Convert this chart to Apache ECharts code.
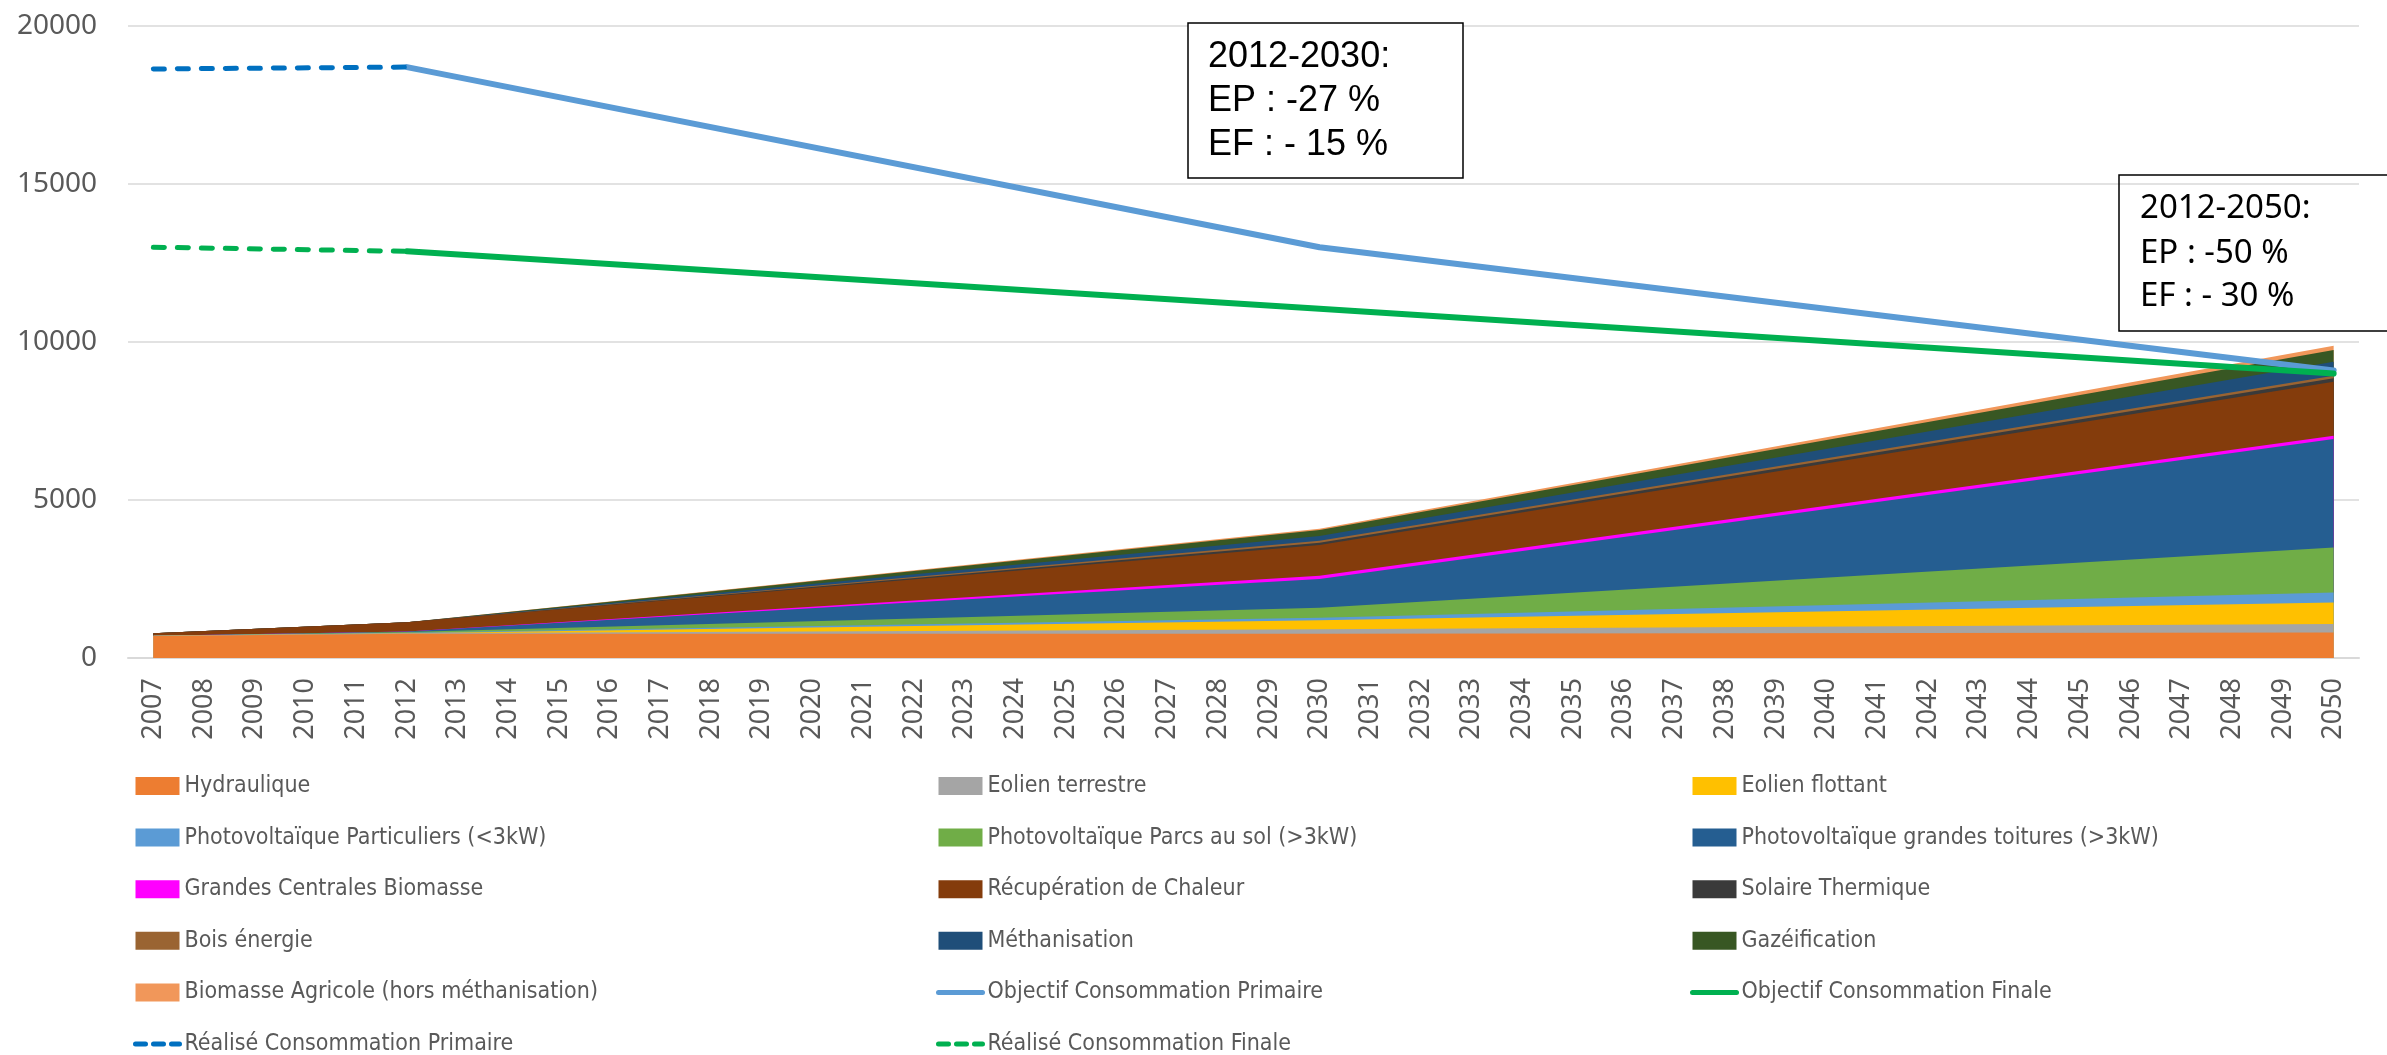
<!DOCTYPE html>
<html>
<head>
<meta charset="utf-8">
<script src="https://cdn.jsdelivr.net/npm/echarts@6/dist/echarts.min.js"></script>
<style>
html,body{margin:0;padding:0;background:#fff;}
#chart{width:2387px;height:1055px;}
</style>
</head>
<body>
<div id="chart"></div>
<script>
const yearLabels = ['2007','2008','2009','2010','2011','2012','2013','2014','2015','2016','2017','2018','2019','2020','2021','2022','2023','2024','2025','2026','2027','2028','2029','2030','2031','2032','2033','2034','2035','2036','2037','2038','2039','2040','2041','2042','2043','2044','2045','2046','2047','2048','2049','2050'];
const yTicks = [0, 5000, 10000, 15000, 20000];

// values read at the years where the stacked areas change slope
const keyYears = [2007, 2012, 2030, 2050];
const hydraulique      = [700, 765, 770, 810];
const eolienTerrestre  = [5, 20, 140, 265];
const eolienFlottant   = [0, 0, 285, 685];
const pvParticuliers   = [0, 15, 75, 315];
const pvSol            = [0, 25, 320, 1425];
const pvToitures       = [0, 10, 910, 3430];
const centralesBiomasse= [0, 0, 100, 100];
const recupChaleur     = [80, 295, 975, 1710];
const solaireThermique = [0, 0, 75, 115];
const boisEnergie      = [0, 0, 60, 75];
const methanisation    = [0, 0, 150, 445];
const gazeification    = [0, 0, 190, 370];
const biomasseAgricole = [0, 0, 40, 135];

// consumption lines
const objectifYears = [2012, 2030, 2050];
const objectifPrimaire = [18700, 13000, 9100];
const objectifFinale   = [12870, 11050, 9000];
const realiseYears = [2007, 2012];
const realisePrimaire = [18640, 18700];
const realiseFinale   = [13000, 12870];

const areaDefs = [
  ['Hydraulique', hydraulique, '#ED7D31'],
  ['Eolien terrestre', eolienTerrestre, '#A5A5A5'],
  ['Eolien flottant', eolienFlottant, '#FFC000'],
  ['Photovoltaïque Particuliers (<3kW)', pvParticuliers, '#5B9BD5'],
  ['Photovoltaïque Parcs au sol (>3kW)', pvSol, '#70AD47'],
  ['Photovoltaïque grandes toitures (>3kW)', pvToitures, '#255E91'],
  ['Grandes Centrales Biomasse', centralesBiomasse, '#FF00FF'],
  ['Récupération de Chaleur', recupChaleur, '#843C0C'],
  ['Solaire Thermique', solaireThermique, '#3A3A3A'],
  ['Bois énergie', boisEnergie, '#9A6432'],
  ['Méthanisation', methanisation, '#1F4E79'],
  ['Gazéification', gazeification, '#385723'],
  ['Biomasse Agricole (hors méthanisation)', biomasseAgricole, '#F1975A']
];

// stacked totals (cumulative sums), each drawn down to zero, top layer first
const running = keyYears.map(() => 0);
const areaSeries = areaDefs.map(([name, vals, color], i) => {
  vals.forEach((v, k) => { running[k] += v; });
  return {
    name, type: 'line', data: keyYears.map((y, k) => [y, running[k]]),
    symbol: 'none', showSymbol: false, color: color, itemStyle: {color: color},
    lineStyle: {width: 0, color: color}, areaStyle: {color: color, opacity: 1},
    z: 2, zlevel: 0, silent: true
  };
});
const series = areaSeries.slice().reverse();

function pairs(keys, vals) { return keys.map((y, k) => [y, vals[k]]); }
function lineSeries(name, keys, vals, color, dashed) {
  return {
    name, type: 'line', data: pairs(keys, vals),
    symbol: 'none', showSymbol: false, color: color, z: 5, silent: true,
    itemStyle: {color: color},
    lineStyle: dashed ? {color: color, width: 5, type: [11, 13], cap: 'round'}
                      : {color: color, width: 6, cap: 'round'}
  };
}
series.push(lineSeries('Objectif Consommation Primaire', objectifYears, objectifPrimaire, '#5B9BD5', false));
series.push(lineSeries('Objectif Consommation Finale', objectifYears, objectifFinale, '#00B050', false));
series.push(lineSeries('Réalisé Consommation Primaire', realiseYears, realisePrimaire, '#0070C0', true));
series.push(lineSeries('Réalisé Consommation Finale', realiseYears, realiseFinale, '#00B050', true));

const areaNames = areaDefs.map(d => d[0]);
const dashedNames = ['Réalisé Consommation Primaire', 'Réalisé Consommation Finale'];
function legendItem(n) {
  if (areaNames.indexOf(n) >= 0) return {name: n, icon: 'rect'};
  const dashed = dashedNames.indexOf(n) >= 0;
  return {name: n, itemStyle: {opacity: 0},
    lineStyle: dashed ? {width: 5, type: [10, 8], cap: 'round'} : {width: 5, cap: 'round'}};
}
const legendFont = {fontFamily: '"Liberation Sans Narrow", "DejaVu Sans Condensed", Roboto, sans-serif', fontSize: 23, lineHeight: 24, color: '#595959'};
function legendCol(left, names) {
  return {
    orient: 'vertical', left: left, top: 774, height: 330, padding: 0, itemWidth: 44, itemHeight: 18, itemGap: 27.6,
    selectedMode: false, textStyle: legendFont, data: names.map(legendItem)
  };
}

const chart = echarts.init(document.getElementById('chart'));
chart.setOption({
  animation: false,
  grid: {left: 128, right: 28, top: 26, bottom: 397},
  xAxis: {
    type: 'value', min: 2006.5, max: 2050.5, interval: 0.5,
    axisLine: {show: true, onZero: false, lineStyle: {color: '#D9D9D9', width: 2}},
    axisTick: {show: false}, splitLine: {show: false},
    axisLabel: {rotate: 90, margin: 20, color: '#595959', fontSize: 27, fontFamily: '"Noto Sans", sans-serif',
      showMinLabel: true, showMaxLabel: true,
      formatter: v => { const s = String(v); return yearLabels.indexOf(s) >= 0 ? s : ''; }}
  },
  yAxis: {
    type: 'value', min: 0, max: 20000, interval: 5000,
    axisLine: {show: false}, axisTick: {show: false},
    splitLine: {lineStyle: {color: '#D9D9D9', width: 1.5}},
    axisLabel: {margin: 31, color: '#595959', fontSize: 28, fontFamily: '"Noto Sans", sans-serif',
      formatter: v => yTicks.indexOf(v) >= 0 ? String(v) : ''}
  },
  legend: [
    legendCol(133, ['Hydraulique','Photovoltaïque Particuliers (<3kW)','Grandes Centrales Biomasse','Bois énergie','Biomasse Agricole (hors méthanisation)','Réalisé Consommation Primaire']),
    legendCol(936, ['Eolien terrestre','Photovoltaïque Parcs au sol (>3kW)','Récupération de Chaleur','Méthanisation','Objectif Consommation Primaire','Réalisé Consommation Finale']),
    legendCol(1690, ['Eolien flottant','Photovoltaïque grandes toitures (>3kW)','Solaire Thermique','Gazéification','Objectif Consommation Finale'])
  ],
  graphic: [
    {type: 'rect', shape: {x: 1188, y: 23, width: 275, height: 155}, style: {fill: '#fff', stroke: '#000', lineWidth: 1.5}, z: 10},
    {type: 'text', x: 1208, y: 57.5, style: {text: '2012-2030:', font: '36px "Liberation Sans", Arial, sans-serif', fill: '#000', verticalAlign: 'middle'}, z: 11},
    {type: 'text', x: 1208, y: 100.8, style: {text: 'EP : -27 %', font: '36px "Liberation Sans", Arial, sans-serif', fill: '#000', verticalAlign: 'middle'}, z: 11},
    {type: 'text', x: 1208, y: 145, style: {text: 'EF : - 15 %', font: '36px "Liberation Sans", Arial, sans-serif', fill: '#000', verticalAlign: 'middle'}, z: 11},
    {type: 'rect', shape: {x: 2119, y: 175, width: 300, height: 156}, style: {fill: 'none', stroke: '#000', lineWidth: 1.5}, z: 10},
    {type: 'text', x: 2140, y: 208.5, style: {text: '2012-2050:', font: '33px "Noto Sans", sans-serif', fill: '#000', verticalAlign: 'middle'}, z: 11},
    {type: 'text', x: 2140, y: 254, style: {text: 'EP : -50 %', font: '33px "Noto Sans", sans-serif', fill: '#000', verticalAlign: 'middle'}, z: 11},
    {type: 'text', x: 2140, y: 297, style: {text: 'EF : - 30 %', font: '33px "Noto Sans", sans-serif', fill: '#000', verticalAlign: 'middle'}, z: 11}
  ],
  series: series
});
</script>
</body>
</html>
